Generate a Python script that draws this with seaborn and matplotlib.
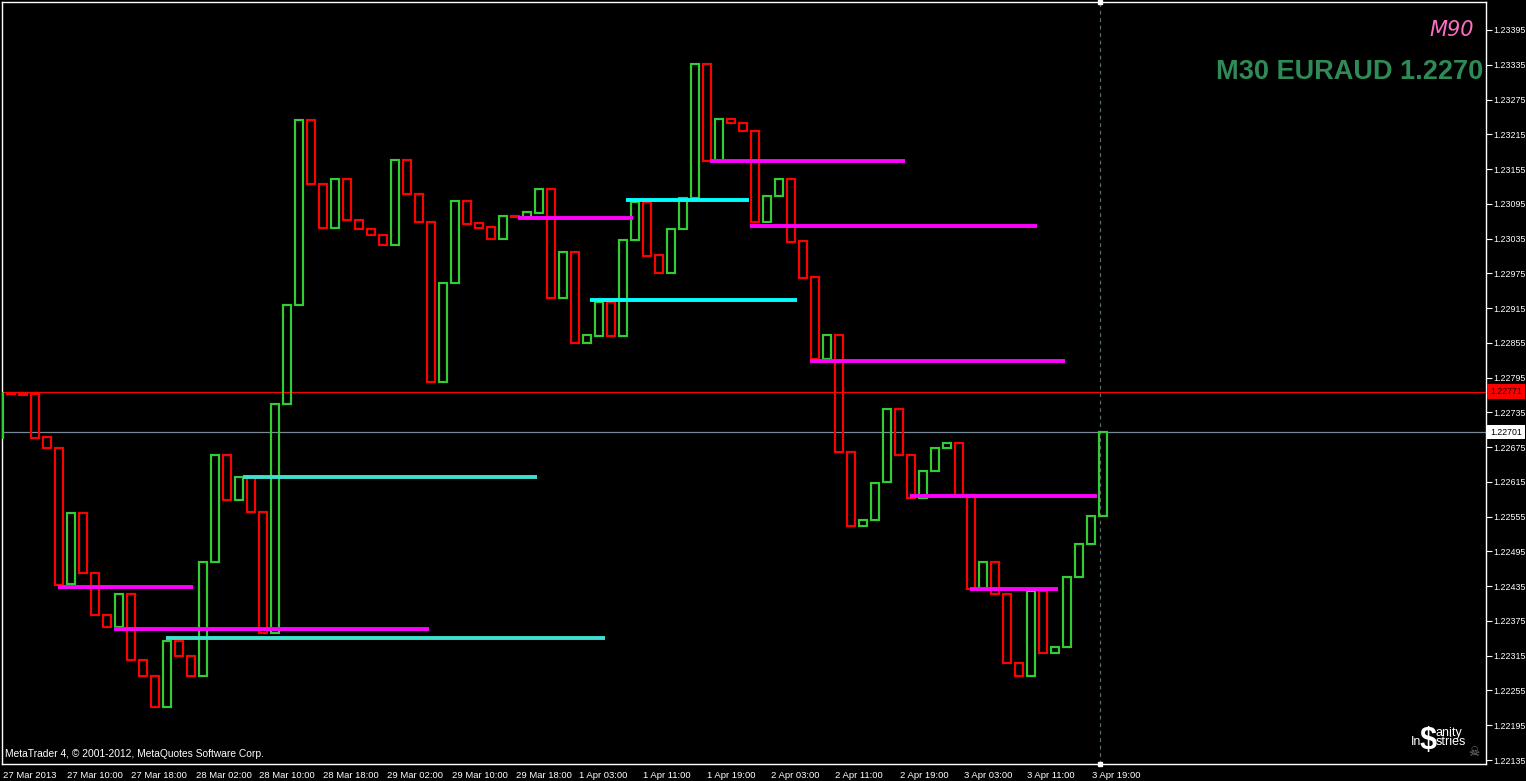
import matplotlib
matplotlib.use('Agg')
import matplotlib.pyplot as plt
import matplotlib.transforms as mtransforms
import numpy as np
import pandas as pd
import seaborn as sns

# --- candle bodies (open/close), bar -1 is cut off at the left edge ---
bar_open = [1.22690, 1.22769, 1.22768, 1.22766, 1.22692, 1.22674, 1.22438, 1.22562, 1.22458, 1.22385,
            1.22365, 1.22421, 1.22307, 1.22280, 1.22226, 1.22340, 1.22314, 1.22280, 1.22476, 1.22662,
            1.22584, 1.22624, 1.22563, 1.22354, 1.22750, 1.22921,
            1.23239, 1.23130, 1.23054, 1.23138, 1.23067, 1.23052, 1.23041, 1.23024, 1.23171, 1.23112,
            1.23064, 1.22787, 1.22958, 1.23100, 1.23061, 1.23055, 1.23034, 1.23074, 1.23072, 1.23079,
            1.23121, 1.22932, 1.23012, 1.22855, 1.22866, 1.22926, 1.22866, 1.23032, 1.23098, 1.23006,
            1.22975, 1.23051, 1.23105, 1.23337, 1.23169, 1.23242, 1.23235, 1.23221, 1.23063, 1.23108,
            1.23138, 1.23030, 1.22969, 1.22827, 1.22869, 1.22667, 1.22539, 1.22549, 1.22614, 1.22741,
            1.22662, 1.22587, 1.22634, 1.22674, 1.22683, 1.22592, 1.22430, 1.22476, 1.22421, 1.22303,
            1.22280, 1.22427, 1.22320, 1.22330, 1.22451, 1.22507, 1.22557]
bar_close = [1.22769, 1.22767, 1.22765, 1.22691, 1.22674, 1.22437, 1.22562, 1.22458, 1.22385, 1.22365,
             1.22421, 1.22307, 1.22280, 1.22226, 1.22340, 1.22314, 1.22280, 1.22476, 1.22662, 1.22584,
             1.22624, 1.22563, 1.22354, 1.22750, 1.22921, 1.23239,
             1.23129, 1.23054, 1.23138, 1.23067, 1.23051, 1.23041, 1.23024, 1.23171, 1.23112, 1.23063,
             1.22787, 1.22959, 1.23100, 1.23060, 1.23054, 1.23034, 1.23074, 1.23072, 1.23080, 1.23121,
             1.22932, 1.23012, 1.22855, 1.22868, 1.22926, 1.22866, 1.23033, 1.23098, 1.23005, 1.22975,
             1.23052, 1.23105, 1.23337, 1.23169, 1.23242, 1.23234, 1.23221, 1.23063, 1.23109, 1.23138,
             1.23029, 1.22967, 1.22827, 1.22869, 1.22667, 1.22539, 1.22550, 1.22613, 1.22741, 1.22662,
             1.22587, 1.22634, 1.22674, 1.22683, 1.22592, 1.22430, 1.22476, 1.22421, 1.22303, 1.22280,
             1.22427, 1.22320, 1.22330, 1.22451, 1.22507, 1.22557, 1.22701]
first_bar = -1

# --- horizontal levels: (from bar, to bar, price) ---
magenta_levels = [(3.9, 15.2, 1.22434), (8.6, 34.8, 1.22361), (42.25, 51.8, 1.23071),
                  (58.25, 74.5, 1.23169), (61.6, 85.5, 1.23056), (66.6, 87.8, 1.22823),
                  (74.9, 90.5, 1.22590), (79.9, 87.2, 1.22430)]
turquoise_levels = [(19.3, 43.8, 1.22624), (12.9, 49.5, 1.22345)]
cyan_levels = [(51.25, 61.5, 1.23101), (48.25, 65.5, 1.22929)]

ask_price = 1.22771
bid_price = 1.22701
cursor_bar = 90.75

ytick_labels = ['1.23395', '1.23335', '1.23275', '1.23215', '1.23155', '1.23095', '1.23035',
                '1.22975', '1.22915', '1.22855', '1.22795', '1.22735', '1.22675', '1.22615',
                '1.22555', '1.22495', '1.22435', '1.22375', '1.22315', '1.22255', '1.22195', '1.22135']
xtick_bars = [-0.67, 4.67, 10.0, 15.42, 20.67, 26.0, 31.33, 36.75, 42.08, 47.33,
              52.67, 58.0, 63.33, 68.67, 74.08, 79.42, 84.67, 90.08]
xtick_labels = ['27 Mar 2013', '27 Mar 10:00', '27 Mar 18:00', '28 Mar 02:00', '28 Mar 10:00',
                '28 Mar 18:00', '29 Mar 02:00', '29 Mar 10:00', '29 Mar 18:00', '1 Apr 03:00',
                '1 Apr 11:00', '1 Apr 19:00', '2 Apr 03:00', '2 Apr 11:00', '2 Apr 19:00',
                '3 Apr 03:00', '3 Apr 11:00', '3 Apr 19:00']

candles = pd.DataFrame({'open': bar_open, 'close': bar_close})
candles['bar'] = np.arange(len(candles)) + first_bar
candles['low'] = candles[['open', 'close']].min(axis=1)
candles['height'] = (candles['close'] - candles['open']).abs().clip(lower=0.00001)
candles['color'] = np.where(candles['close'] > candles['open'], '#32CD32', '#FF0000')

rows = []
for kind, levels in [('magenta', magenta_levels), ('turquoise', turquoise_levels), ('cyan', cyan_levels)]:
    for n, (a, b, p) in enumerate(levels):
        rows.append({'kind': kind, 'seg': f'{kind}{n}', 'bar': a, 'price': p})
        rows.append({'kind': kind, 'seg': f'{kind}{n}', 'bar': b, 'price': p})
levels_df = pd.DataFrame(rows)

sns.set_style('dark', {'axes.facecolor': 'black', 'figure.facecolor': 'black',
                       'axes.edgecolor': 'white', 'axes.grid': False})
plt.rcParams['font.family'] = ['Liberation Sans', 'DejaVu Sans']

W, H, DPI = 1526, 781, 100
fig = plt.figure(figsize=(W / DPI, H / DPI), dpi=DPI)
fig.patch.set_facecolor('black')
ax = fig.add_axes([2 / W, 17 / H, 1484 / W, 762 / H])
ax.set_facecolor('black')

ylo, yhi = 1.221281, 1.234433
ax.set_xlim(-0.75, 122.9)
ax.set_ylim(ylo, yhi)

# ask / bid lines
ax.axhline(ask_price, color='#FF0000', lw=0.9, zorder=1)
ax.axhline(bid_price, color='#778899', lw=0.9, zorder=1)

# candle bodies
ax.bar(candles['bar'], candles['height'], bottom=candles['low'], width=0.72,
       fill=False, edgecolor=candles['color'], linewidth=1.55, zorder=3)

# levels
sns.lineplot(data=levels_df, x='bar', y='price', hue='kind', units='seg', estimator=None,
             sort=False, palette={'magenta': '#FF00FF', 'turquoise': '#40E0D0', 'cyan': '#00FFFF'},
             linewidth=2.8, legend=False, ax=ax, zorder=4)
for line in ax.lines[2:]:
    line.set_solid_capstyle('butt')

# cursor line
ax.axvline(cursor_bar, color='#5A6A6A', lw=0.9, ls=(0, (3, 3)), zorder=2)
ax.plot([cursor_bar, cursor_bar], [yhi, ylo], 's', color='white', ms=3, clip_on=False, zorder=6)

# axes styling
ax.set_xlabel('')
ax.set_ylabel('')
for s in ax.spines.values():
    s.set_color('white')
    s.set_linewidth(1.0)
ax.yaxis.tick_right()
ax.set_yticks([float(t) for t in ytick_labels])
ax.set_yticklabels(ytick_labels)
ax.tick_params(axis='y', colors='white', labelcolor='white', length=4, width=0.8,
               labelsize=6.4, pad=1.5, direction='out')
ax.set_xticks(xtick_bars)
ax.set_xticklabels(xtick_labels, ha='left')
ax.tick_params(axis='x', colors='white', labelcolor='white', length=4, width=0.8,
               labelsize=6.8, pad=1, direction='out')

# price boxes on the scale
tr = mtransforms.blended_transform_factory(fig.transFigure, ax.transData)
ax.text(1490 / W, ask_price, '1.22771', transform=tr, ha='left', va='center', fontsize=6.3,
        color='#200000', bbox=dict(boxstyle='square,pad=0.3', fc='#FF0000', ec='none'), zorder=7)
ax.text(1490 / W, bid_price, '1.22701', transform=tr, ha='left', va='center', fontsize=6.3,
        color='black', bbox=dict(boxstyle='square,pad=0.3', fc='white', ec='none'), zorder=7)

# on-chart texts
fig.text(1483 / W, 1 - 79 / H, 'M30 EURAUD 1.2270', ha='right', va='baseline',
         fontsize=19.5, fontweight='bold', color='#2E8B57')
fig.text(1474 / W, 1 - 36 / H, 'M90', ha='right', va='baseline', fontsize=15,
         fontstyle='italic', color='#FF6EC7', family=['DejaVu Sans'])
fig.text(5 / W, 1 - 757 / H, 'MetaTrader 4, \u00a9 2001-2012, MetaQuotes Software Corp.',
         ha='left', va='baseline', fontsize=7.4, color='white')

# logo
fig.text(1428 / W, 1 - 749 / H, '$', ha='center', va='baseline', fontsize=22,
         fontweight='bold', color='white')
fig.text(1435 / W, 1 - 736 / H, 'anity', ha='left', va='baseline', fontsize=9, color='white')
fig.text(1411 / W, 1 - 745 / H, 'In', ha='left', va='baseline', fontsize=9, color='white')
fig.text(1436 / W, 1 - 745 / H, 'stries', ha='left', va='baseline', fontsize=9, color='white')
fig.text(1474 / W, 1 - 756 / H, '\u2620', ha='center', va='baseline', fontsize=9,
         color='#808080', family=['DejaVu Sans'])

fig.savefig('out.png', dpi=DPI, facecolor='black')
